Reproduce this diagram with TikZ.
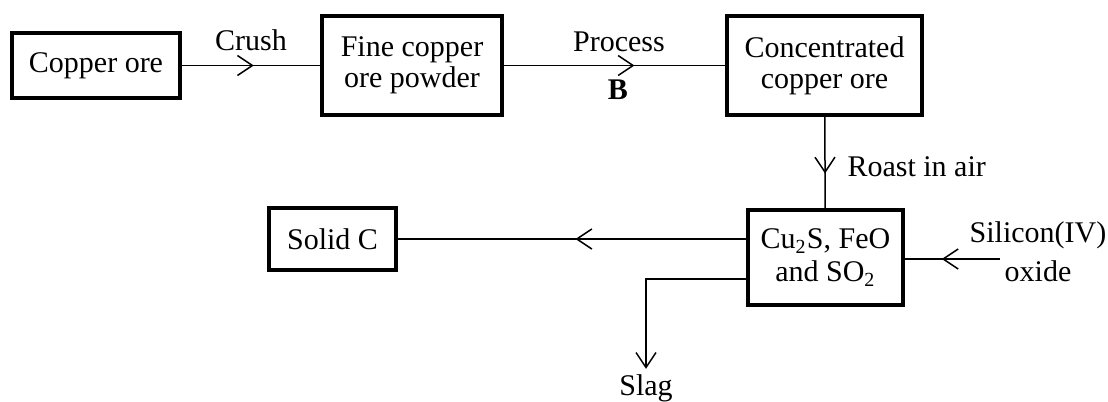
\documentclass[tikz,border=0pt]{standalone}
\usepackage{fontspec}
\setmainfont{Liberation Serif}
\usetikzlibrary{arrows.meta,decorations.markings}
\tikzset{
  >={Straight Barb[length=6pt,width=8pt]},
  flowbox/.style={draw,line width=1.3pt,align=center,inner sep=0pt},
  flow/.style={line width=0.6pt},
  midarrow/.style={flow,postaction={decorate,decoration={markings,
      mark=at position #1 with {\arrow{>}}}}},
  tag/.style={inner sep=0pt,align=center}
}

\begin{document}
\begin{tikzpicture}[x=0.4pt,y=-0.4pt,font=\fontsize{12}{12.5}\selectfont]
  \useasboundingbox (0,0) rectangle (1108,401);
  \node[flowbox,minimum width=67.2pt,minimum height=26pt] (ore) at (96,65.5) {Copper ore};
  \node[flowbox,minimum width=72pt,minimum height=39.6pt] (powder) at (412,65.5) {Fine copper\\ore powder};
  \node[flowbox,minimum width=78pt,minimum height=39.6pt] (conc) at (824.5,65.5) {Concentrated\\copper ore};
  \node[flowbox,minimum width=62pt,minimum height=38pt,font=\fontsize{12}{13.2}\selectfont] (roasted) at (825.5,257.5) {Cu\textsubscript{2}S, FeO\\and SO\textsubscript{2}};
  \node[flowbox,minimum width=50.8pt,minimum height=24.8pt] (solidC) at (332.5,239) {Solid C};
  \node[tag] (crush) at (251,40) {Crush};
  \node[tag] (process) at (619,42) {Process};
  \node[tag] (B) at (618,90) {\textbf{B}};
  \node[tag,anchor=west] (roast) at (847,167) {Roast in air};
  \node[tag,font=\fontsize{12}{15.6}\selectfont] (silica) at (1038,252) {Silicon(IV)\\oxide};
  \node[tag] (slag) at (646,388) {Slag};
  \coordinate (silend) at (1000,259);
  \coordinate (slagturn) at (646,279);

  \draw[midarrow=0.52] (ore) -- (powder);
  \draw[midarrow=0.59] (powder) -- (conc);
  \draw[midarrow=0.62] (conc) -- (roasted);
  \draw[midarrow=0.49] (roasted.west |- solidC.east) -- (solidC.east);
  \draw[midarrow=0.61] (silend) -- (roasted.east |- silend);
  \draw[flow,->] (roasted.west |- slagturn) -- (slagturn) -- ([yshift=2pt]slag.north);
\end{tikzpicture}
\end{document}
